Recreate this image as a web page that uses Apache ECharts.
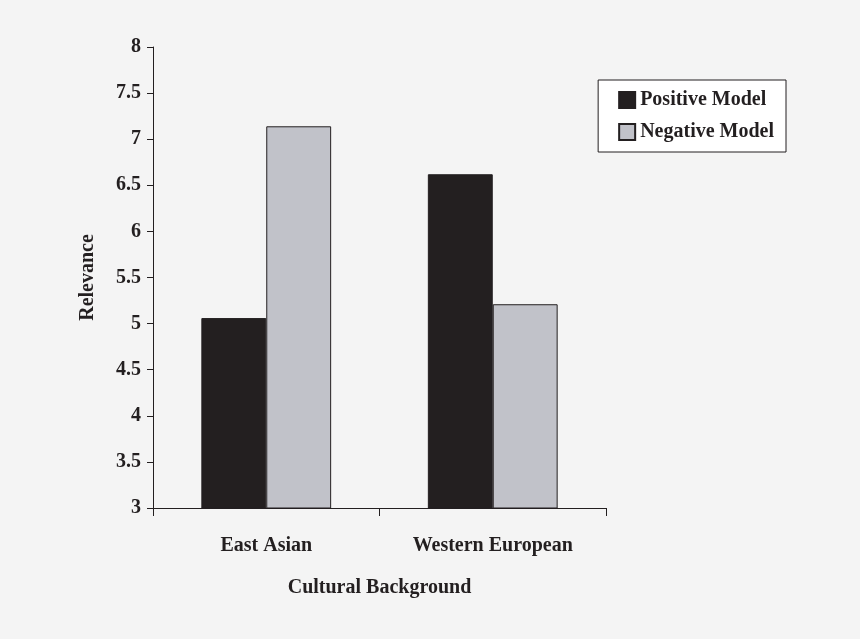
<!DOCTYPE html>
<html><head><meta charset="utf-8">
<script src="https://cdn.jsdelivr.net/npm/echarts@6/dist/echarts.min.js"></script>
<style>html,body{margin:0;padding:0;background:#f4f4f4}#c{width:860px;height:639px}</style>
</head><body><div id="c"></div>
<script>
const categories = ['East Asian', 'Western European'];
const positiveModel = [5.06, 6.62];
const negativeModel = [7.14, 5.21];
const chart = echarts.init(document.getElementById('c'));
const font = {fontFamily: 'Liberation Serif', fontWeight: 'bold', color: '#231f20'};
chart.setOption({
  backgroundColor: '#f4f4f4',
  animation: false,
  grid: {left: 153, right: 254, top: 47, bottom: 131},
  legend: {
    right: 74, top: 80, width: 205, height: 64, orient: 'vertical', itemGap: 12,
    padding: [10, 12, 10, 20],
    backgroundColor: '#fff', borderColor: '#231f20', borderWidth: 1,
    itemWidth: 16, itemHeight: 16, icon: 'rect',
    textStyle: Object.assign({fontSize: 20}, font),
    data: ['Positive Model', 'Negative Model']
  },
  xAxis: {
    type: 'category', data: categories,
    name: 'Cultural Background', nameLocation: 'middle', nameGap: 70,
    nameTextStyle: Object.assign({fontSize: 20}, font),
    axisLine: {lineStyle: {color: '#231f20'}},
    axisTick: {show: true, length: 8, lineStyle: {color: '#231f20'}},
    axisLabel: Object.assign({fontSize: 20, margin: 28}, font)
  },
  yAxis: {
    type: 'value', min: 3, max: 8, interval: 0.5,
    name: 'Relevance', nameLocation: 'middle', nameGap: 55,
    nameTextStyle: Object.assign({fontSize: 20}, font),
    axisLine: {show: true, lineStyle: {color: '#231f20'}},
    axisTick: {show: true, length: 6, inside: false, lineStyle: {color: '#231f20'}},
    splitLine: {show: false},
    axisLabel: Object.assign({fontSize: 20, margin: 12}, font)
  },
  series: [
    {name: 'Positive Model', type: 'bar', data: positiveModel, barGap: '0%', barCategoryGap: '42.7%',
     itemStyle: {color: '#231f20', borderColor: '#231f20', borderWidth: 1}},
    {name: 'Negative Model', type: 'bar', data: negativeModel,
     itemStyle: {color: '#c1c2c9', borderColor: '#231f20', borderWidth: 1}}
  ]
});
</script></body></html>
